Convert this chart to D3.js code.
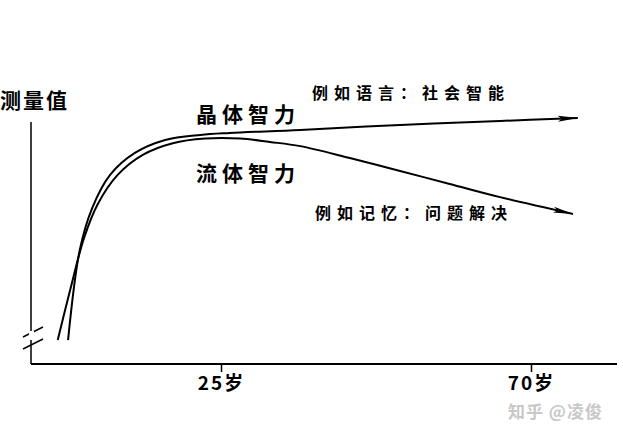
<!DOCTYPE html>
<html><head><meta charset="utf-8">
<script src="https://cdn.jsdelivr.net/npm/d3@7"></script>
<style>body{margin:0;background:#fff}text{font-family:"Noto Sans CJK SC",sans-serif;font-weight:bold}</style>
</head><body><svg id="c" width="623" height="435"></svg>
<script>
const crystalAge=[2.8,4.5,6.3,8.9,12.5,16.9,22.0,26.3,36.5,51.0,65.5,76.8];
const crystalVal=[9.8,46.7,63.9,77.5,86.5,91.8,93.9,94.7,95.9,98.0,99.6,100.8];
const fluidAge=[1.3,3.1,5.1,7.1,10.0,13.7,18.0,22.7,27.8,32.1,36.5,43.7,51.0,58.2,65.5,76.1];
const fluidVal=[9.8,30.3,51.5,65.5,77.5,85.8,90.5,92.4,92.4,91.0,89.3,84.4,79.1,73.8,68.4,61.5];
const tickAges=[25,70];
const tickLabels=["25岁","70岁"];

const svg=d3.select("#c");
const x=d3.scaleLinear().domain([25,70]).range([221,531]);
const y=d3.scaleLinear().domain([0,100]).range([364,120]);
const x0=31,x1=617;

svg.append("defs").append("marker").attr("id","ah").attr("viewBox","0 0 20 8")
 .attr("refX",20).attr("refY",4).attr("markerWidth",20).attr("markerHeight",8)
 .attr("markerUnits","userSpaceOnUse").attr("orient","auto")
 .append("path").attr("d","M0,1 L20,4 L0,7 L4,4Z").attr("fill","#000");

svg.append("line").attr("x1",x0).attr("x2",x0).attr("y1",122).attr("y2",364).attr("stroke","#000").attr("stroke-width",1.5);
const ax=svg.append("g").attr("transform","translate(0,364)")
 .call(d3.axisBottom(x).tickValues(tickAges).tickSize(8).tickFormat((d,i)=>tickLabels[i]));
ax.select(".domain").remove();
ax.append("line").attr("x1",x0).attr("x2",x1).attr("stroke","#000").attr("stroke-width",2);
ax.selectAll(".tick line").attr("stroke-width",1.5);
ax.selectAll(".tick text").attr("font-size",19).attr("fill","#000").attr("dy","0.8em").attr("letter-spacing",2)
 .attr("font-family","Noto Sans CJK SC").attr("font-weight","bold");
[[332],[344]].forEach(([yy])=>svg.append("line").attr("x1",23).attr("x2",43).attr("y1",yy+5).attr("y2",yy-5).attr("stroke","#000").attr("stroke-width",1.5));
svg.append("rect").attr("x",29).attr("y",331).attr("width",5).attr("height",9).attr("fill","#fff");

const line=d3.line().x(d=>x(d[0])).y(d=>y(d[1])).curve(d3.curveCatmullRom);
svg.append("path").attr("d",line(crystalAge.map((a,i)=>[a,crystalVal[i]]))).attr("fill","none").attr("stroke","#000").attr("stroke-width",2).attr("marker-end","url(#ah)");
svg.append("path").attr("d",line(fluidAge.map((a,i)=>[a,fluidVal[i]]))).attr("fill","none").attr("stroke","#000").attr("stroke-width",2).attr("marker-end","url(#ah)");

const t=(s,xx,yy,fs,ls)=>svg.append("text").attr("x",xx).attr("y",yy).attr("font-size",fs).attr("letter-spacing",ls).attr("fill","#000").text(s);
t("测量值",0,108,21,2);
t("晶体智力",196,122,21,5);
t("流体智力",196,181,21,5);
t("例如语言：社会智能",312,99,16,6);
t("例如记忆：问题解决",315,219,16,6);
svg.append("text").attr("x",508).attr("y",418).attr("font-size",17).attr("font-weight","normal").attr("letter-spacing",1).attr("fill","#c8c8c8").text("知乎 @凌俊");
</script></body></html>
